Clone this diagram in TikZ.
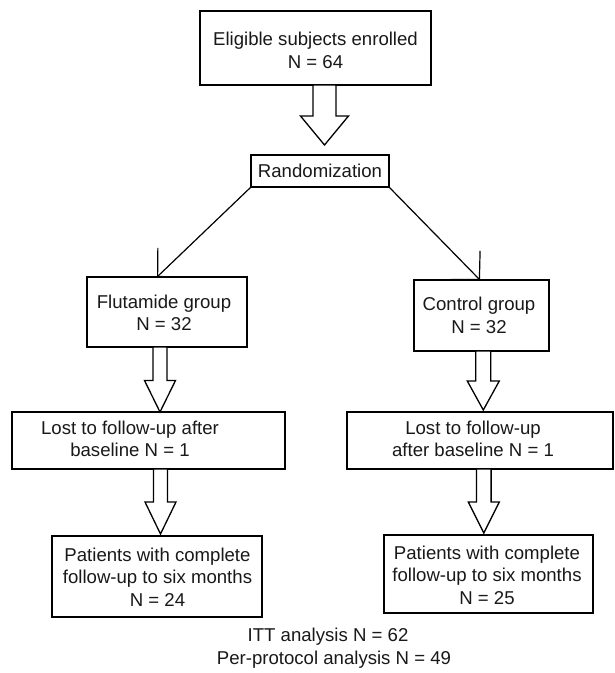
\documentclass[tikz,border=0pt]{standalone}
\usepackage{fontspec}
\setmainfont{Liberation Sans}
\usetikzlibrary{arrows.meta,calc}
\tikzset{
  boxnode/.style={draw=black, line width=1.3pt, rectangle, inner sep=0pt, outer sep=0pt},
  txt/.style={align=center, inner sep=0pt, font=\fontsize{18.6pt}{22.5pt}\selectfont, text=black!90},
  blockarrow/.style={draw=black, line width=1.3pt, fill=white, line join=miter},
  diag/.style={draw=black, line width=1.2pt, -{Straight Barb[length=20pt, width=41pt, line width=1.2pt]}}
}
\newcommand{\blockarr}[7]{%
  \draw[blockarrow] let \p1=(#1.south), \p2=(#2.north) in
   (#3pt-#4pt,\y1) -- (#3pt-#4pt,\y2+#7pt+#6pt) -- (#3pt-#5pt,\y2+#7pt+#6pt)
   -- (#3pt,\y2+#7pt) -- (#3pt+#5pt,\y2+#7pt+#6pt) -- (#3pt+#4pt,\y2+#7pt+#6pt)
   -- (#3pt+#4pt,\y1) -- cycle;}
\begin{document}
\begin{tikzpicture}
\useasboundingbox[fill=white] (0pt,0pt) rectangle (615pt,-673pt);
% boxes
\node[boxnode, minimum width=231pt, minimum height=74pt] (top) at (315.5pt,-48pt) {};
\node[boxnode, minimum width=138pt, minimum height=32pt] (rand) at (320pt,-171pt) {};
\node[boxnode, minimum width=160pt, minimum height=70pt] (flut) at (167pt,-312pt) {};
\node[boxnode, minimum width=135pt, minimum height=71pt] (ctrl) at (481.5pt,-315.5pt) {};
\node[boxnode, minimum width=273pt, minimum height=57pt] (lostL) at (148.5pt,-440.5pt) {};
\node[boxnode, minimum width=266pt, minimum height=57pt] (lostR) at (480pt,-440.5pt) {};
\node[boxnode, minimum width=210pt, minimum height=81pt] (patL) at (157pt,-576.5pt) {};
\node[boxnode, minimum width=209pt, minimum height=78pt] (patR) at (488.5pt,-574pt) {};
% texts
\node[txt] (ttop) at (315.5pt,-50.5pt) {Eligible subjects enrolled\\N = 64};
\node[txt] (trand) at (320pt,-171pt) {Randomization};
\node[txt] (tflut) at (164pt,-313pt) {Flutamide group\\N = 32};
\node[txt] (tctrl) at (479pt,-315.5pt) {Control group\\N = 32};
\node[txt] (tlostL) at (130pt,-439pt) {Lost to follow-up after\\baseline N = 1};
\node[txt] (tlostR) at (473pt,-439pt) {Lost to follow-up\\after baseline N = 1};
\node[txt] (tpatL) at (157.5pt,-577pt) {Patients with complete\\follow-up to six months\\N = 24};
\node[txt] (tpatR) at (487pt,-575pt) {Patients with complete\\follow-up to six months\\N = 25};
\node[txt] (itt) at (328pt,-637pt) {ITT analysis N = 62};
\node[txt] (pp) at (334pt,-660pt) {Per-protocol analysis N = 49};
% block arrows
\blockarr{top}{rand}{324.5}{11.5}{24}{29}{10}
\blockarr{flut}{lostL}{160}{7}{15.5}{31.5}{0}
\blockarr{lostL}{patL}{160.5}{7}{15.5}{32}{2}
\blockarr{ctrl}{lostR}{483.3}{7.5}{16}{29}{2}
\blockarr{lostR}{patR}{483.8}{7.3}{15.5}{31}{2}
% diagonal arrows
\draw[diag] (rand.south west) -- ($(flut.north west)+(70pt,0pt)$);
\draw[diag] (rand.south east) -- ($(ctrl.north west)+(66pt,0pt)$);
\end{tikzpicture}
\end{document}
